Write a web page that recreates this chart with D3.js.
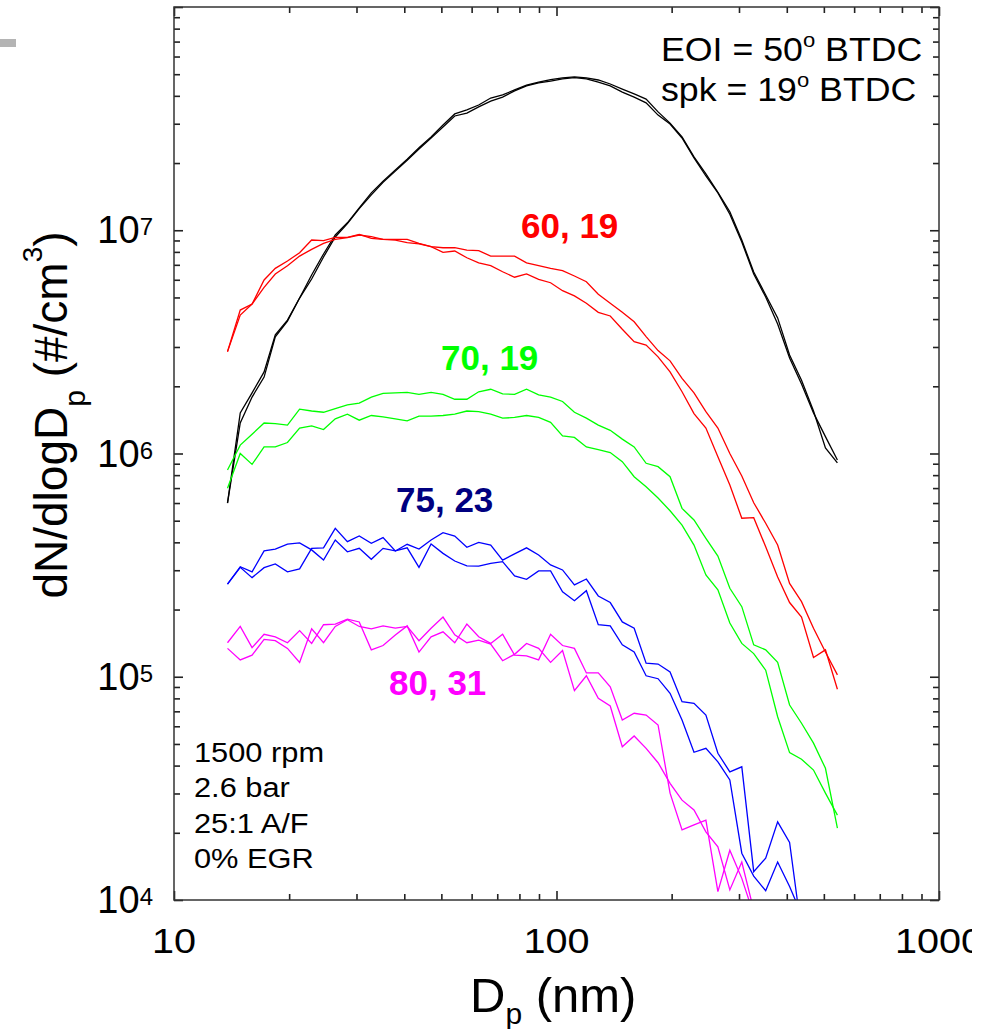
<!DOCTYPE html>
<html>
<head>
<meta charset="utf-8">
<script src="https://cdn.jsdelivr.net/npm/d3@7"></script>
<style>
  html, body { margin: 0; padding: 0; background: #fff; }
  svg { display: block; font-family: "Liberation Sans", Arial, Helvetica, sans-serif; }
</style>
</head>
<body>
<svg id="chart" width="992" height="1029"></svg>
<script>
// Particle mobility diameter bins (nm), 32 channels per decade
const diameters = [13.8, 14.9, 16.0, 17.2, 18.4, 19.8, 21.3, 22.9, 24.6, 26.4, 28.4, 30.5, 32.8, 35.2, 37.9, 40.7,
  43.7, 47.0, 50.5, 54.2, 58.3, 62.6, 67.3, 72.3, 77.7, 83.5, 89.8, 96.5, 103.7, 111.4, 119.7, 128.6, 138.2,
  148.6, 159.6, 171.5, 184.3, 198.1, 212.9, 228.8, 245.8, 264.2, 283.9, 305.1, 327.8, 352.3, 378.6, 406.8,
  437.1, 469.8, 504.8, 542.5];

// dN/dlogDp (#/cm^3), two repeat scans per injection/spark timing
const eoi50run1 = [6.00e5, 1.52e6, 1.87e6, 2.32e6, 3.40e6, 3.96e6, 4.97e6, 6.30e6, 7.83e6, 9.52e6, 1.08e7, 1.26e7,
  1.47e7, 1.66e7, 1.86e7, 2.08e7, 2.34e7, 2.62e7, 2.96e7, 3.32e7, 3.46e7, 3.64e7, 3.91e7, 4.04e7, 4.25e7, 4.47e7,
  4.61e7, 4.73e7, 4.81e7, 4.86e7, 4.81e7, 4.71e7, 4.52e7, 4.29e7, 4.08e7, 3.87e7, 3.39e7, 3.02e7, 2.62e7, 2.13e7,
  1.79e7, 1.48e7, 1.21e7, 9.04e6, 6.50e6, 5.13e6, 4.05e6, 2.76e6, 2.13e6, 1.55e6, 1.06e6, 9.07e5];
const eoi50run2 = [6.00e5, 1.37e6, 1.79e6, 2.20e6, 3.33e6, 3.92e6, 4.97e6, 6.05e6, 7.59e6, 9.33e6, 1.07e7, 1.25e7,
  1.44e7, 1.64e7, 1.84e7, 2.06e7, 2.31e7, 2.59e7, 2.90e7, 3.25e7, 3.35e7, 3.57e7, 3.79e7, 3.95e7, 4.21e7, 4.43e7,
  4.57e7, 4.66e7, 4.76e7, 4.83e7, 4.76e7, 4.61e7, 4.43e7, 4.16e7, 3.95e7, 3.72e7, 3.28e7, 2.99e7, 2.59e7, 2.11e7,
  1.75e7, 1.47e7, 1.18e7, 8.86e6, 6.37e6, 5.02e6, 3.80e6, 2.68e6, 2.05e6, 1.52e6, 1.19e6, 9.35e5];

const eoi60run1 = [2.86e6, 4.39e6, 4.67e6, 5.99e6, 6.75e6, 7.28e6, 7.93e6, 9.04e6, 8.98e6, 9.30e6, 9.30e6, 9.59e6,
  9.20e6, 9.11e6, 9.11e6, 9.11e6, 8.74e6, 8.44e6, 8.35e6, 8.35e6, 8.15e6, 8.10e6, 7.66e6, 7.66e6, 7.66e6, 7.15e6,
  6.94e6, 6.75e6, 6.59e6, 6.24e6, 5.88e6, 5.17e6, 4.71e6, 4.29e6, 3.89e6, 3.34e6, 2.89e6, 2.60e6, 2.17e6, 1.87e6,
  1.54e6, 1.30e6, 1.00e6, 7.93e5, 6.02e5, 4.87e5, 3.89e5, 2.62e5, 2.17e5, 1.65e5, 1.29e5, 1.02e5];
const eoi60run2 = [2.86e6, 4.17e6, 4.67e6, 5.55e6, 6.37e6, 6.94e6, 7.66e6, 8.21e6, 8.74e6, 9.11e6, 9.26e6, 9.52e6,
  9.36e6, 9.11e6, 9.04e6, 8.80e6, 8.68e6, 8.44e6, 7.96e6, 8.07e6, 7.53e6, 7.15e6, 6.94e6, 6.52e6, 6.16e6, 6.37e6,
  6.03e6, 5.82e6, 5.36e6, 5.08e6, 4.71e6, 4.29e6, 4.13e6, 3.60e6, 3.17e6, 3.06e6, 2.71e6, 2.32e6, 1.89e6, 1.51e6,
  1.30e6, 9.67e5, 7.22e5, 5.13e5, 5.16e5, 3.82e5, 2.80e5, 2.15e5, 1.85e5, 1.22e5, 1.32e5, 8.79e4];

const eoi70run1 = [8.44e5, 1.09e6, 1.22e6, 1.37e6, 1.36e6, 1.34e6, 1.58e6, 1.55e6, 1.53e6, 1.59e6, 1.65e6, 1.68e6,
  1.79e6, 1.86e6, 1.87e6, 1.88e6, 1.84e6, 1.88e6, 1.84e6, 1.75e6, 1.75e6, 1.89e6, 1.94e6, 1.85e6, 1.84e6, 1.94e6,
  1.83e6, 1.79e6, 1.71e6, 1.53e6, 1.44e6, 1.34e6, 1.27e6, 1.16e6, 1.07e6, 9.04e5, 8.73e5, 7.87e5, 5.68e5, 5.04e5,
  4.17e5, 3.47e5, 2.49e5, 2.06e5, 1.39e5, 1.32e5, 1.16e5, 7.47e4, 6.19e4, 5.04e4, 3.89e4, 2.10e4];
const eoi70run2 = [6.99e5, 1.00e6, 8.94e5, 1.07e6, 1.07e6, 1.12e6, 1.30e6, 1.33e6, 1.28e6, 1.43e6, 1.50e6, 1.41e6,
  1.48e6, 1.46e6, 1.43e6, 1.40e6, 1.47e6, 1.47e6, 1.48e6, 1.50e6, 1.55e6, 1.54e6, 1.50e6, 1.44e6, 1.45e6, 1.48e6,
  1.45e6, 1.38e6, 1.20e6, 1.18e6, 1.07e6, 1.04e6, 1.01e6, 9.19e5, 7.87e5, 7.10e5, 6.32e5, 5.54e5, 4.78e5, 3.89e5,
  2.86e5, 2.45e5, 1.74e5, 1.41e5, 1.27e5, 1.07e5, 6.62e4, 4.57e4, 4.27e4, 3.82e4, 3.01e4, 2.40e4];

const eoi75run1 = [2.60e5, 3.09e5, 2.78e5, 3.08e5, 3.20e5, 2.95e5, 3.04e5, 3.76e5, 3.78e5, 4.62e5, 4.03e5, 4.27e5,
  3.96e5, 4.20e5, 3.66e5, 3.92e5, 3.73e5, 4.10e5, 4.42e5, 4.27e5, 3.80e5, 4.00e5, 3.89e5, 3.33e5, 3.55e5, 3.78e5,
  3.51e5, 3.17e5, 3.01e5, 2.58e5, 2.74e5, 2.30e5, 2.15e5, 1.76e5, 1.65e5, 1.15e5, 1.14e5, 1.05e5, 7.73e4, 7.60e4,
  6.74e4, 4.54e4, 3.75e4, 3.95e4, 1.34e4, 1.54e4, 2.24e4, 1.81e4, 7.2e3];
const eoi75run2 = [2.60e5, 3.11e5, 2.95e5, 3.66e5, 3.73e5, 3.93e5, 3.98e5, 3.70e5, 3.33e5, 4.10e5, 3.63e5, 3.76e5,
  3.36e5, 3.76e5, 3.66e5, 3.78e5, 3.09e5, 3.93e5, 3.57e5, 3.30e5, 3.14e5, 3.13e5, 3.22e5, 3.28e5, 2.83e5, 2.73e5,
  2.98e5, 2.98e5, 2.40e5, 2.19e5, 2.43e5, 1.71e5, 1.69e5, 1.39e5, 1.29e5, 1.01e5, 9.80e4, 8.43e4, 6.40e4, 4.59e4,
  4.78e4, 4.16e4, 3.45e4, 1.62e4, 1.28e4, 1.10e4, 1.48e4, 1.15e4, 8.6e3];

const eoi80run1 = [1.42e5, 1.68e5, 1.35e5, 1.55e5, 1.51e5, 1.42e5, 1.61e5, 1.41e5, 1.71e5, 1.72e5, 1.81e5, 1.76e5,
  1.32e5, 1.38e5, 1.54e5, 1.69e5, 1.29e5, 1.51e5, 1.59e5, 1.42e5, 1.72e5, 1.51e5, 1.41e5, 1.55e5, 1.25e5, 1.24e5,
  1.19e5, 1.55e5, 1.38e5, 1.34e5, 1.04e5, 1.04e5, 9.02e4, 6.40e4, 6.86e4, 6.74e4, 6.08e4, 3.01e4, 2.06e4, 2.17e4,
  2.28e4, 1.09e4, 1.67e4, 1.25e4, 8.6e3];
const eoi80run2 = [1.34e5, 1.19e5, 1.25e5, 1.47e5, 1.45e5, 1.34e5, 1.16e5, 1.64e5, 1.42e5, 1.68e5, 1.80e5, 1.68e5,
  1.64e5, 1.69e5, 1.65e5, 1.68e5, 1.45e5, 1.65e5, 1.85e5, 1.54e5, 1.42e5, 1.46e5, 1.40e5, 1.18e5, 1.26e5, 1.41e5,
  1.34e5, 1.16e5, 1.31e5, 8.66e4, 1.01e5, 8.01e4, 7.40e4, 4.86e4, 5.43e4, 4.78e4, 4.12e4, 3.33e4, 2.80e4, 2.53e4,
  2.02e4, 1.73e4, 1.11e4, 1.48e4, 9.0e3];

// Curve labels: "EOI, spark" in degrees BTDC
const caseLabels = ["60, 19", "70, 19", "75, 23", "80, 31"];
const caseColors = ["#ff0000", "#00ff00", "#000080", "#ff00ff"];
const lineColors = ["#000000", "#ff0000", "#00ff00", "#0000ff", "#ff00ff"];

// Axis ticks and labels
const xMajor = [10, 100, 1000];
const xTickLabels = ["10", "100", "1000"];
const yExponents = [4, 5, 6, 7];
const operatingNotes = ["1500 rpm", "2.6 bar", "25:1 A/F", "0% EGR"];

const W = 992, H = 1029;
const plot = { left: 174, right: 939, top: 7, bottom: 900 };

const x = d3.scaleLog().domain([10, 1000]).range([plot.left, plot.right]);
const y = d3.scaleLog().domain([1e4, 1e8]).range([plot.bottom, plot.top]);

const svg = d3.select("#chart");
const defs = svg.append("defs");
defs.append("clipPath").attr("id", "plotClip").append("rect")
  .attr("x", plot.left).attr("y", plot.top)
  .attr("width", plot.right - plot.left).attr("height", plot.bottom - plot.top);
defs.append("clipPath").attr("id", "pageClip").append("rect")
  .attr("x", 0).attr("y", 0).attr("width", 972).attr("height", H);

svg.append("rect").attr("width", W).attr("height", H).attr("fill", "#fff");

// small grey mark at the upper left edge
svg.append("rect").attr("x", 0).attr("y", 39).attr("width", 16).attr("height", 8).attr("fill", "#b4b4b4");

// minor tick positions per decade
const xMinor = [];
[10, 100].forEach(b => { for (let k = 2; k <= 9; k++) xMinor.push(b * k); });
const yMajor = [1e4, 1e5, 1e6, 1e7, 1e8];
const yMinor = [];
[1e4, 1e5, 1e6, 1e7].forEach(b => { for (let k = 2; k <= 9; k++) yMinor.push(b * k); });

function ticks(axis, values, size, transform) {
  const g = svg.append("g").attr("transform", transform)
    .call(axis.tickValues(values).tickSize(size).tickFormat(""));
  g.select(".domain").remove();
  g.selectAll("line").attr("stroke", "#222").attr("stroke-width", 1.6);
  g.selectAll("text").remove();
}
ticks(d3.axisBottom(x), xMajor, -9, `translate(0,${plot.bottom})`);
ticks(d3.axisBottom(x), xMinor, -6, `translate(0,${plot.bottom})`);
ticks(d3.axisTop(x), xMajor, -9, `translate(0,${plot.top})`);
ticks(d3.axisTop(x), xMinor, -6, `translate(0,${plot.top})`);
ticks(d3.axisLeft(y), yMajor, -9, `translate(${plot.left},0)`);
ticks(d3.axisLeft(y), yMinor, -6, `translate(${plot.left},0)`);
ticks(d3.axisRight(y), yMajor, -9, `translate(${plot.right},0)`);
ticks(d3.axisRight(y), yMinor, -6, `translate(${plot.right},0)`);

// data curves
const runs = [
  { values: eoi50run1, color: lineColors[0] }, { values: eoi50run2, color: lineColors[0] },
  { values: eoi60run1, color: lineColors[1] }, { values: eoi60run2, color: lineColors[1] },
  { values: eoi70run1, color: lineColors[2] }, { values: eoi70run2, color: lineColors[2] },
  { values: eoi75run1, color: lineColors[3] }, { values: eoi75run2, color: lineColors[3] },
  { values: eoi80run1, color: lineColors[4] }, { values: eoi80run2, color: lineColors[4] }
];
const line = d3.line().x((d, i) => x(diameters[i])).y(d => y(d));
svg.append("g").attr("clip-path", "url(#plotClip)")
  .selectAll("path").data(runs).join("path")
  .attr("d", r => line(r.values))
  .attr("fill", "none").attr("stroke", r => r.color)
  .attr("stroke-width", 1.3).attr("stroke-linejoin", "miter");

// frame
svg.append("rect").attr("x", plot.left).attr("y", plot.top)
  .attr("width", plot.right - plot.left).attr("height", plot.bottom - plot.top)
  .attr("fill", "none").attr("stroke", "#333").attr("stroke-width", 1.5);

// x tick labels
svg.append("g").attr("clip-path", "url(#pageClip)")
  .selectAll("text").data(xMajor).join("text")
  .attr("transform", d => `translate(${x(d)},953) scale(1.1,1)`)
  .attr("text-anchor", "middle").attr("font-size", 36).attr("fill", "#000")
  .text((d, i) => xTickLabels[i]);

// y tick labels as powers of ten
yExponents.forEach(e => {
  const t = svg.append("text").attr("x", 153).attr("y", y(Math.pow(10, e)) + 13)
    .attr("text-anchor", "end").attr("font-size", 38).attr("fill", "#000");
  t.append("tspan").text("10");
  t.append("tspan").attr("dy", -8).attr("font-size", 24).text(e);
});

// axis titles
const yt = svg.append("text").attr("transform", "translate(67,415) rotate(-90)")
  .attr("text-anchor", "middle").attr("font-size", 46).attr("fill", "#000");
yt.append("tspan").text("dN/dlogD");
yt.append("tspan").attr("dy", 18).attr("font-size", 30).text("p");
yt.append("tspan").attr("dy", -18).text(" (#/cm");
yt.append("tspan").attr("dy", -25).attr("font-size", 28).text("3");
yt.append("tspan").attr("dy", 25).text(")");

const xt = svg.append("text").attr("x", 470).attr("y", 1012).attr("font-size", 49).attr("fill", "#000");
xt.append("tspan").text("D");
xt.append("tspan").attr("dy", 12).attr("font-size", 30).text("p");
xt.append("tspan").attr("dy", -12).text(" (nm)");

// curve labels
const labelPos = [[521, 238], [441, 370], [396, 512], [389, 695]];
svg.append("g").selectAll("text").data(caseLabels).join("text")
  .attr("x", (d, i) => labelPos[i][0]).attr("y", (d, i) => labelPos[i][1])
  .attr("font-size", 35).attr("font-weight", "bold")
  .attr("fill", (d, i) => caseColors[i]).text(d => d);

// timing annotation
[["EOI = 50", 61], ["spk = 19", 101]].forEach(([s, yy]) => {
  const t = svg.append("text").attr("transform", `translate(661,${yy}) scale(1.05,1)`)
    .attr("font-size", 34).attr("fill", "#000");
  t.append("tspan").text(s);
  t.append("tspan").attr("dy", -14).attr("font-size", 21).text("o");
  t.append("tspan").attr("dy", 14).text(" BTDC");
});

// operating conditions
svg.append("g").selectAll("text").data(operatingNotes).join("text")
  .attr("transform", (d, i) => `translate(194,${762 + i * 35.3}) scale(1.1,1)`)
  .attr("font-size", 28).attr("fill", "#000").text(d => d);
</script>
</body>
</html>
